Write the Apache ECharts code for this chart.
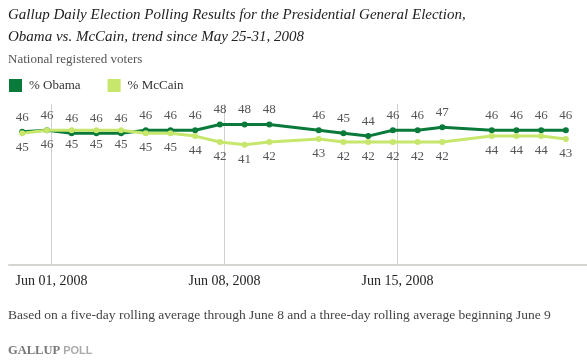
<!DOCTYPE html>
<html><head><meta charset="utf-8">
<script src="https://cdn.jsdelivr.net/npm/echarts@6/dist/echarts.min.js"></script>
<style>html,body{margin:0;padding:0;background:#fff}#c{width:587px;height:360px}</style>
</head><body><div id="c"></div>
<script>
const dates = ['2008-05-31','2008-06-01','2008-06-02','2008-06-03','2008-06-04','2008-06-05','2008-06-06','2008-06-07','2008-06-08','2008-06-09','2008-06-10','2008-06-12','2008-06-13','2008-06-14','2008-06-15','2008-06-16','2008-06-17','2008-06-19','2008-06-20','2008-06-21','2008-06-22'];
const obama = [45.5,46,45,45,45,46,46,46,48,48,48,46,45,44,46,46,47,46,46,46,46];
const mccain = [45,46,46,46,46,45,45,44,42,41,42,43,42,42,42,42,42,44,44,44,43];
const obamaLabels = [46,46,46,46,46,46,46,46,48,48,48,46,45,44,46,46,47,46,46,46,46];
const mccainLabels = [45,46,45,45,45,45,45,44,42,41,42,43,42,42,42,42,42,44,44,44,43];
const tickDates = ['2008-06-01','2008-06-08','2008-06-15'];
const tickLabels = ['Jun 01, 2008','Jun 08, 2008','Jun 15, 2008'];
const seriesNames = ['% Obama','% McCain'];
const titleText = 'Gallup Daily Election Polling Results for the Presidential General Election,\nObama vs. McCain, trend since May 25-31, 2008';
const subtitleText = 'National registered voters';
const footnoteText = 'Based on a five-day rolling average through June 8 and a three-day rolling average beginning June 9';

function dayIndex(s){
  const p = s.split('-').map(Number);
  return (Date.UTC(p[0],p[1]-1,p[2]) - Date.UTC(2008,5,1)) / 86400000;
}
const tickDays = tickDates.map(dayIndex);
const xMin = -1.72, xMax = 21.67, dayShift = 0.185;
const serif = '"Liberation Serif", "DejaVu Serif", serif';
const cObama = '#0a7a3a', cMcCain = '#c6e66c';

const chart = echarts.init(document.getElementById('c'), null, {renderer:'canvas'});
chart.setOption({
  animation:false,
  backgroundColor:'#fff',
  title:[
    {text:titleText,left:8,top:4,padding:0,textStyle:{fontFamily:serif,fontStyle:'italic',fontWeight:'normal',fontSize:15,lineHeight:22,color:'#222'}},
    {text:subtitleText,left:8,top:52,padding:0,textStyle:{fontFamily:serif,fontWeight:'normal',fontSize:13,lineHeight:15,color:'#555'}},
    {text:footnoteText,left:8,top:307,padding:0,textStyle:{fontFamily:serif,fontWeight:'normal',fontSize:13.5,lineHeight:16,color:'#444'}},
    {text:'{a|GALLUP }{b|POLL}',left:8,top:344,padding:0,textStyle:{rich:{
      a:{fontFamily:serif,fontSize:12.5,color:'#777'},
      b:{fontFamily:'"Liberation Sans", Arial, sans-serif',fontSize:11,color:'#aaa'}}}}
  ],
  legend:{left:9,top:79,padding:0,itemWidth:13,itemHeight:13,itemGap:27,icon:'rect',
    data:seriesNames,textStyle:{fontFamily:serif,fontSize:13,color:'#333',padding:[0,0,0,2]}},
  grid:{left:9,right:0,top:104,bottom:95.5,containLabel:false},
  xAxis:[
    {type:'value',min:xMin,max:xMax,
      axisLine:{show:true,lineStyle:{color:'#d4d4d0',width:2}},
      axisTick:{show:false,customValues:tickDays},
      splitLine:{show:true,lineStyle:{color:'#d0d0d0',width:1}},
      axisLabel:{customValues:tickDays,margin:10,fontFamily:serif,fontSize:14,color:'#222',
        formatter:function(v){const i=tickDays.indexOf(v);return i>=0?tickLabels[i]:'';}}},
    {type:'value',min:xMin+dayShift,max:xMax+dayShift,show:false}
  ],
  yAxis:{type:'value',min:0,max:55,show:false,splitLine:{show:false}},
  series:[
    {name:seriesNames[0],type:'line',xAxisIndex:1,data:dates.map((d,i)=>[dayIndex(d),obama[i]]),
      color:cObama,lineStyle:{width:3,color:cObama},symbol:'circle',symbolSize:6,itemStyle:{color:cObama},
      label:{show:true,position:'top',distance:5,fontFamily:serif,fontSize:13,color:'#555',
        formatter:p=>String(obamaLabels[p.dataIndex])}},
    {name:seriesNames[1],type:'line',xAxisIndex:1,data:dates.map((d,i)=>[dayIndex(d),mccain[i]]),
      color:cMcCain,lineStyle:{width:3,color:cMcCain},symbol:'circle',symbolSize:6,itemStyle:{color:cMcCain},
      label:{show:true,position:'bottom',distance:5,fontFamily:serif,fontSize:13,color:'#555',
        formatter:p=>String(mccainLabels[p.dataIndex])}}
  ]
});
</script></body></html>
